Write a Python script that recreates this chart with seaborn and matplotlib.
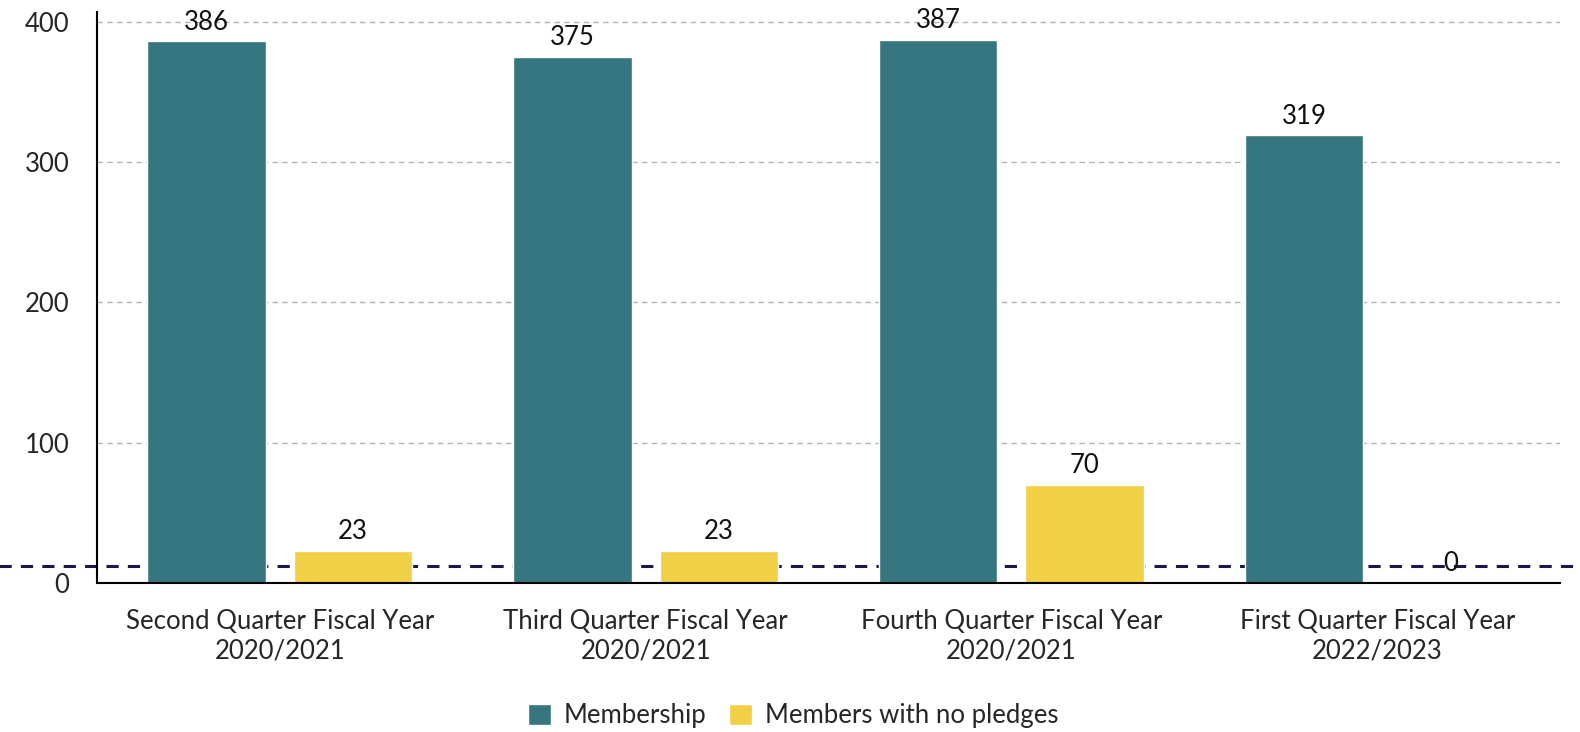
import pandas as pd
import matplotlib.pyplot as plt
import seaborn as sns

quarters = [
    "Second Quarter Fiscal Year\n2020/2021",
    "Third Quarter Fiscal Year\n2020/2021",
    "Fourth Quarter Fiscal Year\n2020/2021",
    "First Quarter Fiscal Year\n2022/2023",
]
membership = [386, 375, 387, 319]
no_pledges = [23, 23, 70, 0]
series_names = ["Membership", "Members with no pledges"]
target_line = 12
y_ticks = [0, 100, 200, 300, 400]

colors = ["#367681", "#f2d046"]


def main():
    sns.set_style("white")
    plt.rcParams["font.family"] = ["Lato", "DejaVu Sans"]

    df = pd.DataFrame({
        "quarter": quarters * 2,
        "series": [series_names[0]] * 4 + [series_names[1]] * 4,
        "value": membership + no_pledges,
    })

    fig = plt.figure(figsize=(15.8, 7.32), dpi=100)
    ax = fig.add_axes([97 / 1580, 1 - 583 / 732, 1463 / 1580, 571 / 732])

    sns.barplot(
        data=df, x="quarter", y="value", hue="series",
        palette=colors, width=0.8, gap=0.19, saturation=1,
        order=quarters, hue_order=series_names, ax=ax, legend=True,
        zorder=3,
    )

    for container in ax.containers:
        ax.bar_label(container, fontsize=18.5, padding=5, color="#111111", zorder=6)

    ax.set_ylim(0, 407)
    ax.set_xlim(-0.5, 3.5)
    ax.set_yticks(y_ticks)
    ax.tick_params(axis="y", length=0, pad=20, labelsize=18.5)
    ax.tick_params(axis="x", length=0, pad=19, labelsize=18.5)
    for lbl in ax.get_yticklabels():
        lbl.set_verticalalignment("center_baseline")
    ax.set_xlabel("")
    ax.set_ylabel("")

    for y in y_ticks[1:]:
        ax.axhline(y, color="#b5b5b5", linestyle=(0, (4, 3)), linewidth=1, zorder=0)

    ax.axhline(target_line, xmin=-0.07, xmax=1.02, color="#1a1848",
               linestyle=(0, (4, 3)), linewidth=2.2, clip_on=False, zorder=2)

    for side in ["top", "right"]:
        ax.spines[side].set_visible(False)
    for side in ["left", "bottom"]:
        ax.spines[side].set_color("black")
        ax.spines[side].set_linewidth(1.5)
        ax.spines[side].set_zorder(4)

    ax.legend(
        loc="center", bbox_to_anchor=(0.502, 1 - 716 / 732),
        bbox_transform=fig.transFigure, ncol=2, frameon=False,
        fontsize=18.5, handlelength=0.9, handleheight=0.9, columnspacing=0.85,
        handletextpad=0.5,
    )

    fig.savefig("out.png", dpi=100)
    plt.close(fig)


if __name__ == "__main__":
    main()
